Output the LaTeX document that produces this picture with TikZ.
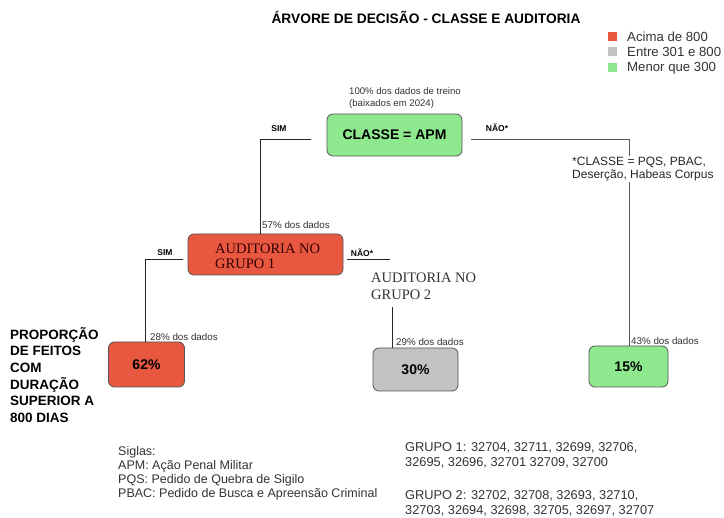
\documentclass[tikz,border=0pt]{standalone}
\usepackage{fontspec}
\setmainfont{Liberation Sans}
\newfontfamily\serifx{Liberation Serif}
\definecolor{boxred}{HTML}{E8573F}
\definecolor{boxgreen}{HTML}{8EE88E}
\definecolor{boxgray}{HTML}{C2C2C2}
\definecolor{txtgray}{HTML}{333333}
\definecolor{lngray}{HTML}{555555}
\begin{document}
\begin{tikzpicture}[x=1pt,y=-1pt,
  decbox/.style={draw=lngray, line width=0.8pt, rounded corners=6pt, inner sep=0pt},
  small/.style={font=\fontsize{9.8}{11}\selectfont, text=txtgray, inner sep=0pt},
  lab/.style={font=\fontsize{8.5}{9}\selectfont\bfseries, inner sep=0pt},
  conn/.style={draw=black!85, line width=0.7pt},
  legsq/.style={minimum size=9pt, inner sep=0pt},
  legtxt/.style={font=\fontsize{13.2}{14}\selectfont, text=txtgray, anchor=west, inner sep=0pt},
  seriftxt/.style={font=\serifx\fontsize{14.5}{15}\selectfont, align=left, inner sep=0pt},
  pct/.style={font=\fontsize{14}{15}\selectfont\bfseries}
]
\useasboundingbox[fill=white] (0,0) rectangle (724,518);

% title
\node[font=\fontsize{13.75}{15}\selectfont\bfseries, inner sep=0pt] (title) at (426,17) {ÁRVORE DE DECISÃO - CLASSE E AUDITORIA};

% legend
\node[legsq, fill=boxred] (lr) at (612,37) {};
\node[legsq, fill=boxgray] (lg) at (612,52) {};
\node[legsq, fill=boxgreen] (lv) at (612,68) {};
\node[legtxt] (lrt) at (627,37) {Acima de 800};
\node[legtxt] (lgt) at (627,52) {Entre 301 e 800};
\node[legtxt] (lvt) at (627,68) {Menor que 300};

% root
\node[decbox, fill=boxgreen, minimum width=135pt, minimum height=42pt, font=\fontsize{14}{15}\selectfont\bfseries] (root) at (394.5,135) {CLASSE = APM};
\node[small, anchor=west, align=left, font=\fontsize{9.6}{12}\selectfont] (rootlab) at (349,98) {100\% dos dados de treino\\(baixados em 2024)};

% auditoria 1
\node[decbox, fill=boxred, minimum width=155pt, minimum height=41pt] (aud1) at (265.5,254.5) {};
\node[seriftxt, anchor=west, text=black!80!red] (aud1t) at (215,256) {AUDITORIA NO\\GRUPO 1};
\node[small, anchor=west] (p57) at (262,225) {57\% dos dados};

% auditoria 2 (no box)
\node[seriftxt, anchor=west, text=black!80, font=\serifx\fontsize{14.5}{17}\selectfont] (aud2) at (371,286) {AUDITORIA NO\\GRUPO 2};

% leaves
\node[decbox, fill=boxred, minimum width=76pt, minimum height=45pt, pct] (l62) at (146.5,364.5) {62\%};
\node[decbox, fill=boxgray, minimum width=85pt, minimum height=43pt, pct] (l30) at (415.5,369.5) {30\%};
\node[decbox, fill=boxgreen, minimum width=79pt, minimum height=41pt, pct] (l15) at (628.5,366.5) {15\%};
\node[small, anchor=west] (p28) at (150,337) {28\% dos dados};
\node[small, anchor=west] (p29) at (396,342) {29\% dos dados};
\node[small, anchor=west] (p43) at (631,341) {43\% dos dados};

% connectors
\coordinate (simA) at (311,139);
\coordinate (simB) at (260,139);
\draw[conn] (simA) -- (simB) -- (simB |- aud1.north);
\node[lab] (sim1) at (279,129) {SIM};

\coordinate (naoA) at (471,139);
\coordinate (naoB) at (629,139);
\draw[conn, draw=black!65] (naoA) -- (naoB) -- (naoB |- l15.north);
\node[lab] (nao1) at (497,128) {NÃO*};
\node[fill=white, font=\fontsize{12}{13}\selectfont, text=black!85, align=left, anchor=west, inner sep=1pt] (classe) at (571,169) {*CLASSE = PQS, PBAC,\\Deserção, Habeas Corpus};

\coordinate (sim2A) at (183,259);
\coordinate (sim2B) at (145,259);
\draw[conn] (sim2A) -- (sim2B) -- (sim2B |- l62.north);
\node[lab] (sim2) at (165,253) {SIM};

\coordinate (nao2A) at (347,259);
\coordinate (nao2B) at (390,259);
\draw[conn] (nao2A) -- (nao2B);
\node[lab] (nao2) at (362,253) {NÃO*};
\coordinate (g2A) at (392,307);
\draw[conn] (g2A) -- (g2A |- l30.north);

% left description
\node[font=\fontsize{13.5}{16.6}\selectfont\bfseries, align=left, anchor=north west, inner sep=0pt] (desc) at (10,327) {PROPORÇÃO\\DE FEITOS\\COM\\DURAÇÃO\\SUPERIOR A\\800 DIAS};

% siglas
\node[font=\fontsize{12.5}{14}\selectfont, text=txtgray, align=left, anchor=north west, inner sep=0pt] (siglas) at (118,446) {Siglas:\\APM: Ação Penal Militar\\PQS: Pedido de Quebra de Sigilo\\PBAC: Pedido de Busca e Apreensão Criminal};

% grupos
\node[font=\fontsize{12.8}{15}\selectfont, text=txtgray, align=left, anchor=north west, inner sep=0pt] (g1) at (405,442) {GRUPO 1: 32704, 32711, 32699, 32706,\\32695, 32696, 32701 32709, 32700};
\node[font=\fontsize{12.8}{15.5}\selectfont, text=txtgray, align=left, anchor=north west, inner sep=0pt] (g2) at (405,490) {GRUPO 2: 32702, 32708, 32693, 32710,\\32703, 32694, 32698, 32705, 32697, 32707};
\end{tikzpicture}
\end{document}
